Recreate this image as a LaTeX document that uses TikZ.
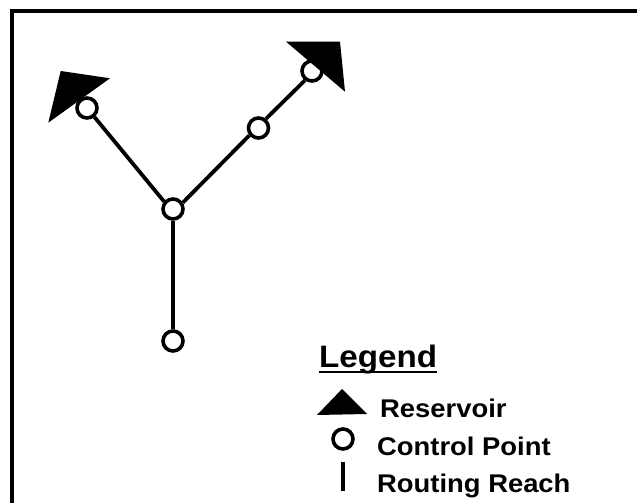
\documentclass[tikz,border=0pt]{standalone}
\usepackage{fontspec}
\setmainfont[FakeStretch=1.07]{Liberation Sans}
\usetikzlibrary{positioning}
\tikzset{
x=1pt,
y=1pt,
reach/.style={line width=3.8pt},
point/.style={circle, draw, line width=3.6pt, fill=white, inner sep=0pt, minimum size=20pt},
reservoir/.style={fill=black, draw=none},
legendtext/.style={font=\bfseries\fontsize{25.6}{28}\selectfont, anchor=base west, inner sep=0pt},
}

\begin{document}
\begin{tikzpicture}
        \useasboundingbox (0,0) rectangle (637,503);
        \draw[line width=4pt] (12,-5) -- (12,492) -- (642,492);

        % left reservoir lies under its point
        \coordinate (r1) at (60.7,432);
        \coordinate (r2) at (110,424.7);
        \coordinate (r3) at (48.3,380.3);
        \fill[reservoir] (r1) -- (r2) -- (r3) -- cycle;

        \node[point] (p1) at (173,294) {};
        \node[point] (p2) at (173,162) {};
        \node[point] (p3) at (87,395) {};
        \node[point] (p4) at (258.5,375) {};
        \node[point] (p5) at (312,432) {};

        \draw[reach] (p2) -- (p1);
        \draw[reach] (p1.140) -- (p3);
        \draw[reach] (p1.33) -- (p4.219);
        \draw[reach] (p4.51) -- (p5.233);

        % right reservoir lies over its point
        \coordinate (r4) at (286,461.3);
        \coordinate (r5) at (340,461.3);
        \coordinate (r6) at (345,411.3);
        \fill[reservoir] (r4) -- (r5) -- (r6) -- cycle;

        % legend
        \node[legendtext, font=\bfseries\fontsize{31}{33}\selectfont] (title) at (319,135) {Legend};
        \draw[line width=2.2pt] ([yshift=-4pt]title.base west) -- ([yshift=-4pt]title.base east);
        \coordinate (k1) at (317,88);
        \coordinate (k2) at (367,89);
        \coordinate (k3) at (342,114);
        \fill[reservoir] (k1) -- (k2) -- (k3) -- cycle;
        \node[legendtext] (t1) at (380,85) {Reservoir};
        \node[point] (k4) at (343,64) {};
        \node[legendtext] (t2) at (377,47) {Control Point};
        \coordinate (k5) at (343,41);
        \coordinate (k6) at (343,12);
        \draw[reach] (k5) -- (k6);
        \node[legendtext] (t3) at (377,10) {Routing Reach};
    \end{tikzpicture}
\end{document}
